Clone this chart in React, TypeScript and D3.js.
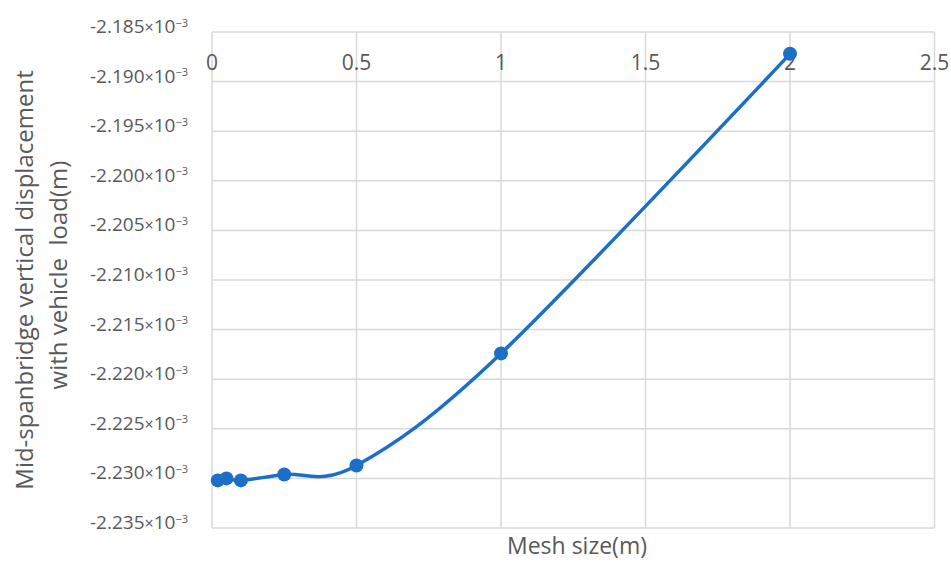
import React from "react";
import * as d3 from "d3";

const meshSizes = [0.02, 0.05, 0.1, 0.25, 0.5, 1, 2];
const displacements = [-2.2302e-3, -2.23e-3, -2.2302e-3, -2.2296e-3, -2.2287e-3, -2.2174e-3, -2.1872e-3];
const xTicks = [0, 0.5, 1, 1.5, 2, 2.5];
const yTicks = [-2.185e-3, -2.19e-3, -2.195e-3, -2.2e-3, -2.205e-3, -2.21e-3, -2.215e-3, -2.22e-3, -2.225e-3, -2.23e-3, -2.235e-3];
const xTitle = "Mesh size(m)";
const yTitle1 = "Mid-spanbridge vertical displacement";
const yTitle2 = "with vehicle\u00a0 load(m)";

const W = 951;
const H = 563;
const left = 212;
const right = 934.5;
const top = 32;
const bottom = 528;
const FONT = "'Open Sans', sans-serif";
const TEXT = "#595959";
const GRID = "#d9d9d9";
const BLUE = "#1b6fc8";

export default function App() {
  const x = d3.scaleLinear().domain([0, 2.5]).range([left, right]);
  const y = d3.scaleLinear().domain([-2.235e-3, -2.185e-3]).range([bottom, top]);
  const pts: [number, number][] = meshSizes.map((m, i) => [x(m), y(displacements[i])]);
  const path = d3.line().curve(d3.curveCardinal.tension(0))(pts) || "";

  return (
    <svg width={W} height={H} style={{ position: "absolute", left: 0, top: 0, background: "#fff" }}>
      {yTicks.map((t) => (
        <line key={"gy" + t} x1={left} x2={right} y1={y(t)} y2={y(t)} stroke={GRID} strokeWidth={1.5} />
      ))}
      {xTicks.map((t) => (
        <line key={"gx" + t} x1={x(t)} x2={x(t)} y1={top} y2={bottom} stroke={GRID} strokeWidth={1.5} />
      ))}
      {yTicks.map((t) => (
        <text key={"ty" + t} x={188} y={y(t) + 1} textAnchor="end" fontFamily={FONT} fontSize={19} fill={TEXT}>
          {(t * 1000).toFixed(3)}
          <tspan fontSize={16}>×</tspan>
          <tspan>10</tspan>
          <tspan fontSize={11} dy={-6.5}>−3</tspan>
        </text>
      ))}
      {xTicks.map((t) => (
        <text key={"tx" + t} x={x(t)} y={70} textAnchor="middle" fontFamily={FONT} fontSize={21} fill={TEXT}>
          {String(t)}
        </text>
      ))}
      <path d={path} fill="none" stroke={BLUE} strokeWidth={3.5} />
      {pts.map((p, i) => (
        <circle key={"p" + i} cx={p[0]} cy={p[1]} r={7} fill={BLUE} />
      ))}
      <text x={577} y={554} textAnchor="middle" fontFamily={FONT} fontSize={23} fill={TEXT}>
        {xTitle}
      </text>
      <text transform={`translate(33,280) rotate(-90)`} textAnchor="middle" fontFamily={FONT} fontSize={24} fill={TEXT}>
        {yTitle1}
      </text>
      <text transform={`translate(67,275) rotate(-90)`} textAnchor="middle" fontFamily={FONT} fontSize={24} fill={TEXT}>
        {yTitle2}
      </text>
    </svg>
  );
}
